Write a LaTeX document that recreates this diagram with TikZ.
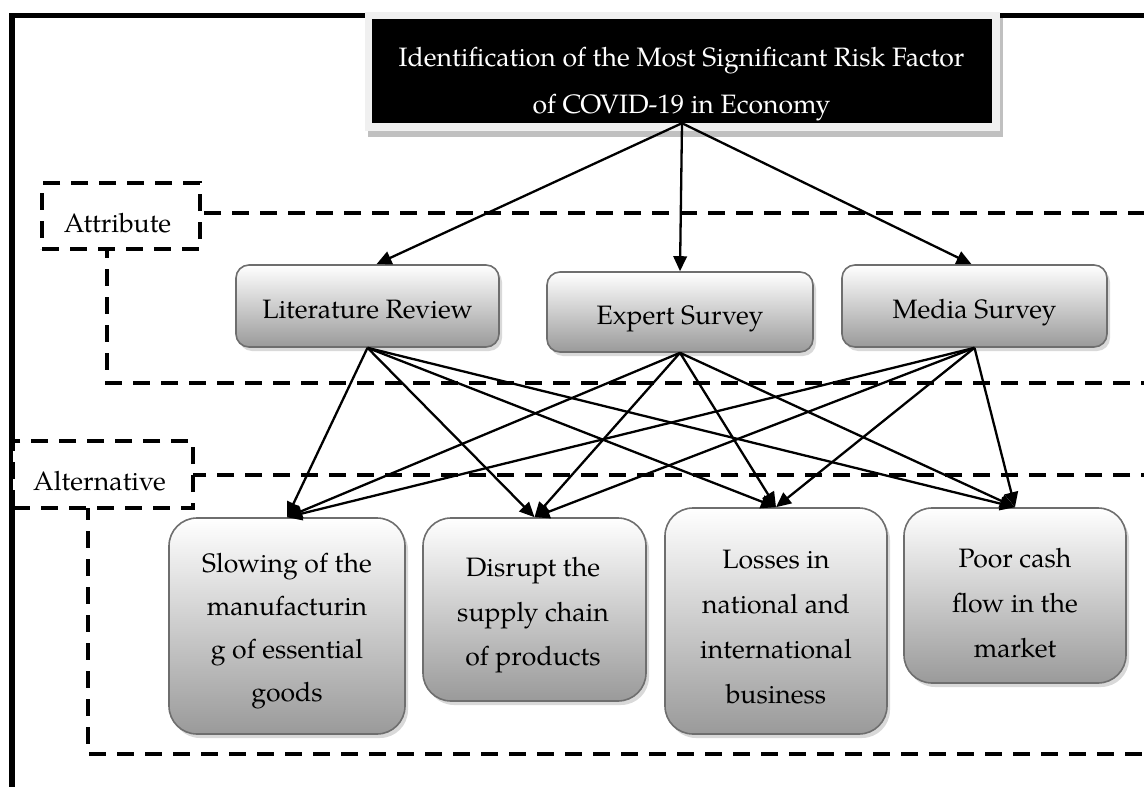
\documentclass[tikz,border=0pt]{standalone}
\usepackage{fontspec}
\setmainfont{TeX Gyre Pagella}
\usetikzlibrary{arrows.meta,shadows}
\definecolor{boxline}{HTML}{6E6E6E}
\definecolor{boxbot}{HTML}{9A9A9A}
\definecolor{titleshadow}{HTML}{C0C0C0}
\definecolor{titleframe}{HTML}{F0F0F0}
\begin{document}
\begin{tikzpicture}[x=1pt,y=-1pt,
  txt/.style={font=\fontsize{26.6}{44}\selectfont, inner sep=0pt, align=center, anchor=base},
  dashline/.style={line width=4pt, dash pattern=on 17pt off 11pt},
  labelbox/.style={dashline, draw, fill=white, inner sep=0pt},
  midbox/.style={draw=boxline, line width=1.6pt, rounded corners=13pt, top color=white, bottom color=boxbot,
     drop shadow={shadow xshift=3pt, shadow yshift=-4pt, opacity=0.3}, inner sep=0pt},
  botbox/.style={midbox, rounded corners=28pt},
  arr/.style={line width=2.3pt, -{Triangle[length=15pt,width=13.5pt]}},
]
\useasboundingbox (0,0) rectangle (1144,787);
\clip (0,0) rectangle (1144,787);
% outer frame
\draw[line width=5.6pt] (12,800) -- (12,15.5) -- (1160,15.5);
% dashed regions
\draw[dashline] (107,213) rectangle (1170,383);
\draw[dashline] (88,475) rectangle (1170,754);
\node[labelbox, minimum width=158pt, minimum height=66pt] (attrbox) at (121,216) {};
\node[txt] (attr) at (117.5,232) {Attribute};
\node[labelbox, minimum width=180pt, minimum height=67pt] (altbox) at (103,474.5) {};
\node[txt] (alt) at (99.5,490) {Alternative};
% title
\fill[titleshadow] (368,18) rectangle (1003,137);
\fill[titleframe] (365,12) rectangle (1000,131);
\node[fill=black, minimum width=620pt, minimum height=104pt, inner sep=0pt] (title) at (682,71) {};
\node[txt, text=white, font=\fontsize{26.6}{47}\selectfont] (ttl) at (681.5,113) {Identification of the Most Significant Risk Factor\\of COVID-19 in Economy};
% middle boxes
\node[midbox, minimum width=263pt, minimum height=82pt] (lit) at (367.5,306) {};
\node[txt] (litt) at (367.5,318) {Literature Review};
\node[midbox, minimum width=266pt, minimum height=80pt] (exp) at (680,312) {};
\node[txt] (expt) at (680,324) {Expert Survey};
\node[midbox, minimum width=265pt, minimum height=82pt] (med) at (974.5,306) {};
\node[txt] (medt) at (974.5,318) {Media Survey};
% bottom boxes
\node[botbox, minimum width=236pt, minimum height=216pt] (s1) at (287,626) {};
\node[txt, font=\fontsize{26.6}{43}\selectfont] (s1t) at (287,701.7) {Slowing of the\\manufacturin\\g of essential\\goods};
\node[botbox, minimum width=223pt, minimum height=183pt] (s2) at (534.5,609.5) {};
\node[txt, font=\fontsize{26.6}{44.5}\selectfont] (s2t) at (533,665.7) {Disrupt the\\supply chain\\of products};
\node[botbox, minimum width=222pt, minimum height=226pt] (s3) at (776,621) {};
\node[txt, font=\fontsize{26.6}{45}\selectfont] (s3t) at (776,703) {Losses in\\national and\\international\\business};
\node[botbox, minimum width=222pt, minimum height=175pt] (s4) at (1015,595.5) {};
\node[txt, font=\fontsize{26.6}{45}\selectfont] (s4t) at (1015,657) {Poor cash\\flow in the\\market};
% arrows
\draw[arr] (title.south) -- ([xshift=9pt]lit.north);
\draw[arr] (title.south) -- (exp.north);
\draw[arr] (title.south) -- ([xshift=-3pt]med.north);
\foreach \src in {lit,exp,med}{
  \foreach \dst in {s1,s2,s3,s4}{
    \draw[arr] (\src.south) -- (\dst.north);
  }
}
\end{tikzpicture}
\end{document}
